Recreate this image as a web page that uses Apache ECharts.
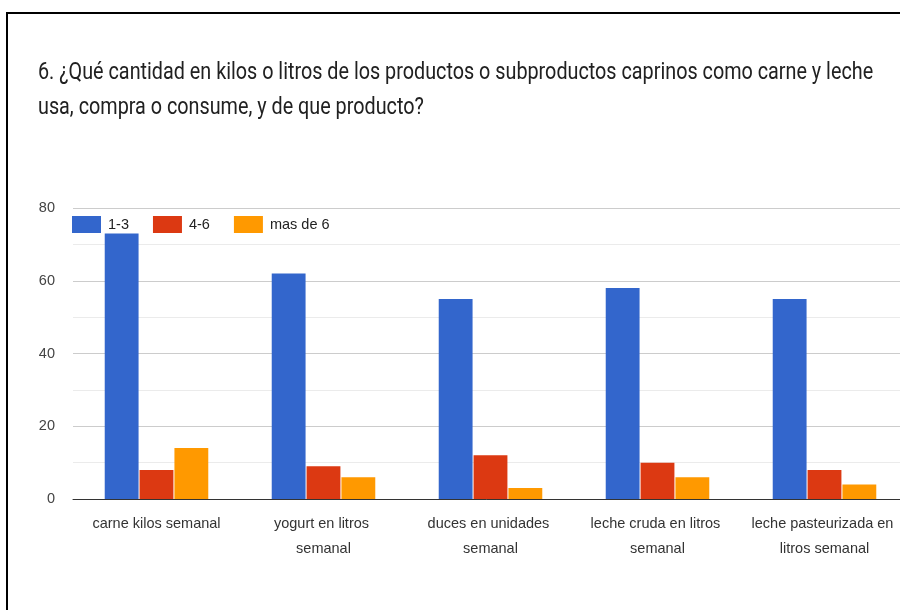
<!DOCTYPE html>
<html>
<head>
<meta charset="utf-8">
<script src="https://cdn.jsdelivr.net/npm/echarts@6/dist/echarts.min.js"></script>
<style>
  html, body { margin: 0; padding: 0; background: #fff; }
  #chart { width: 900px; height: 610px; }
</style>
</head>
<body>
<div id="chart"></div>
<script>
// Survey question and answer categories
const titleLines = [
  '6. ¿Qué cantidad en kilos o litros de los productos o subproductos caprinos como carne y leche',
  'usa, compra o consume, y de que producto?'
];
const categories = [
  'carne kilos semanal',
  'yogurt en litros semanal',
  'duces en unidades semanal',
  'leche cruda en litros semanal',
  'leche pasteurizada en litros semanal'
];
const seriesNames = ['1-3', '4-6', 'mas de 6'];
const values13 = [73, 62, 55, 58, 55];
const values46 = [8, 9, 12, 10, 8];
const valuesMas6 = [14, 6, 3, 6, 4];
const palette = ['#3366cc', '#dc3912', '#ff9900'];

const chart = echarts.init(document.getElementById('chart'), null, { renderer: 'canvas' });

const labelFont = '"Liberation Sans", Arial, sans-serif';
const titleFont = '23px Roboto, sans-serif';

chart.setOption({
  animation: false,
  backgroundColor: '#ffffff',
  color: palette,
  graphic: [
    // frame lines
    { type: 'rect', left: 6, top: 12, shape: { width: 900, height: 2 }, style: { fill: '#000' }, z: 10 },
    { type: 'rect', left: 6, top: 12, shape: { width: 2, height: 600 }, style: { fill: '#000' }, z: 10 },
    {
      type: 'text', x: 38, y: 62, scaleX: 0.86,
      style: { text: titleLines[0], font: titleFont, fill: '#212121' }
    },
    {
      type: 'text', x: 38, y: 97, scaleX: 0.86,
      style: { text: titleLines[1], font: titleFont, fill: '#212121' }
    }
  ],
  legend: {
    left: 72, top: 216, padding: 0,
    itemWidth: 29, itemHeight: 17, itemGap: 24,
    icon: 'rect',
    textStyle: { fontFamily: labelFont, fontSize: 14.5, color: '#222', padding: [0, 0, 0, 2] },
    data: seriesNames
  },
  grid: { left: 73, width: 835, top: 208, bottom: 111, outerBoundsMode: 'none' },
  xAxis: {
    type: 'category',
    data: categories,
    axisLine: { lineStyle: { color: '#333', width: 1 } },
    axisTick: { show: false },
    axisLabel: {
      interval: 0, margin: 12,
      fontFamily: labelFont, fontSize: 14.5, color: '#333',
      lineHeight: 25, width: 150, overflow: 'break'
    }
  },
  yAxis: {
    type: 'value', min: 0, max: 80, interval: 20,
    axisLine: { show: false }, axisTick: { show: false },
    axisLabel: { fontFamily: labelFont, fontSize: 14.5, color: '#444', margin: 18 },
    splitLine: { lineStyle: { color: '#cccccc', width: 1 } },
    minorTick: { show: false, splitNumber: 2 },
    minorSplitLine: { show: true, lineStyle: { color: '#ebebeb', width: 1 } }
  },
  series: [
    { name: seriesNames[0], type: 'bar', data: values13, barGap: '3%', barCategoryGap: '38%' },
    { name: seriesNames[1], type: 'bar', data: values46, barGap: '3%', barCategoryGap: '38%' },
    { name: seriesNames[2], type: 'bar', data: valuesMas6, barGap: '3%', barCategoryGap: '38%' }
  ]
});
</script>
</body>
</html>
